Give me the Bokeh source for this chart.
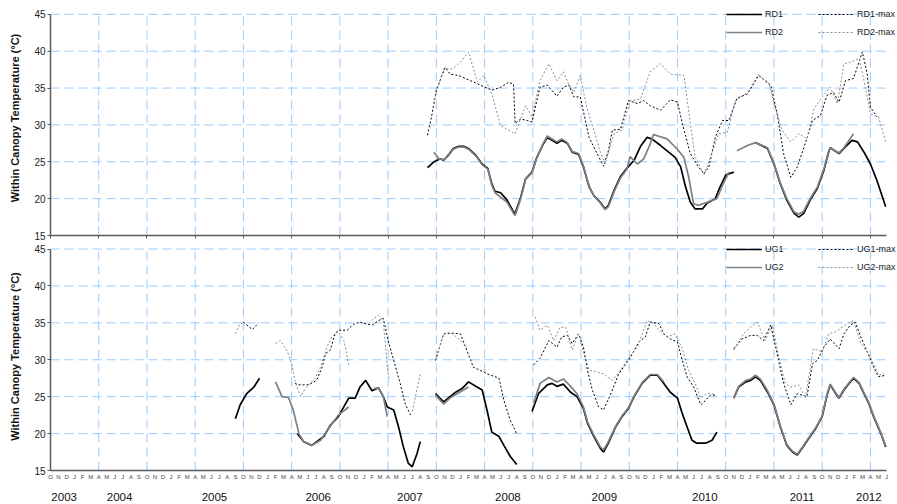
from bokeh.plotting import figure
from bokeh.models import FixedTicker, LinearAxis, Range1d, Legend, LegendItem
from bokeh.layouts import column
from bokeh.embed import file_html
from bokeh.resources import INLINE

nan = float("nan")

# x values are months since 1 October 2003 (0 = Oct 2003, 104 = Jun 2012)
month_letters = ["O", "N", "D", "J", "F", "M", "A", "M", "J", "J", "A", "S"]
n_months = 105
year_labels = ["2003", "2004", "2005", "2006", "2007", "2008", "2009", "2010", "2011", "2012"]
year_label_months = [1.7, 8.6, 20.4, 33.3, 44.7, 56.9, 68.9, 81.4, 93.5, 101.8]
grid_months = list(range(6, 105, 6))
temp_ticks = [15, 20, 25, 30, 35, 40, 45]
x_first, x_last = 0, 104
t_min, t_max = 15, 45

# ---- top panel (RD) ----
rd1_m = [46.9, 47.7, 48.5, 48.9, 49.5, 50.1, 50.8, 51.4, 52.0, 52.9, 53.7, 54.4, 54.9, 55.3, 56.0,
         56.8, 57.6, 57.8, 58.5, 59.1, 59.9, 60.5, 61.2, 61.8, 62.4, 63.0, 63.6, 64.3, 64.9, 65.7,
         66.3, 67.0, 67.6, 68.4, 69.0, 69.4, 70.1, 70.9, 71.7, 72.6, 73.4, 74.2, 74.8, 75.9, 76.9,
         77.7, 78.4, 79.0, 79.6, 80.2, 81.1, 81.7, 82.7, 83.3, 84.0, 85.0, nan,
         87.7, 89.2, 90.0, 90.8, 91.6, 92.5, 93.1, 93.7, 94.5, 95.4, 96.2, 96.8, 97.0, 98.1, 98.7,
         99.7, 100.4, 101.2, 102.0, 102.8, 103.9]
rd1_t = [24.2, 25.0, 25.4, 25.2, 25.9, 26.8, 27.1, 27.1, 26.8, 25.9, 24.7, 24.1, 22.0, 21.0, 20.8,
         19.8, 18.2, 18.0, 20.2, 22.7, 23.6, 25.6, 27.2, 28.3, 27.9, 27.5, 27.9, 27.5, 26.3, 26.0,
         24.3, 21.6, 20.4, 19.5, 18.6, 19.1, 21.1, 23.0, 24.1, 25.2, 27.1, 28.3, 28.1, 27.2, 26.3,
         25.6, 24.3, 21.6, 19.5, 18.6, 18.6, 19.4, 20.0, 21.6, 23.2, 23.6, nan,
         27.6, 26.8, 24.7, 22.0, 19.8, 18.0, 17.5, 18.0, 19.8, 21.4, 23.8, 26.3, 26.9, 26.1, 26.8,
         27.9, 27.7, 26.3, 24.7, 22.5, 18.9]

rd2_m = [47.7, 48.3, 48.9, 49.5, 50.1, 50.8, 51.4, 52.0, 52.9, 53.7, 54.4, 54.9, 55.3, 56.0, 56.8,
         57.6, 57.8, 58.5, 59.1, 59.9, 60.5, 61.2, 61.8, 62.4, 63.0, 63.6, 64.3, 64.9, 65.7, 66.3,
         67.0, 67.6, 68.4, 69.0, 69.4, 70.1, 70.9, 71.7, 72.1, 73.0, 73.8, 74.6, 75.0, 76.7, 77.9,
         78.8, 79.4, 80.0, 80.6, 81.7, 82.9, 83.6, 84.4, nan,
         85.4, 86.7, 87.7, 89.2, 90.0, 90.8, 91.6, 92.5, 93.1, 93.7, 94.5, 95.4, 96.2, 96.8, 97.0,
         98.1, 98.7, 99.9]
rd2_t = [26.3, 25.4, 25.3, 25.8, 26.7, 27.0, 27.0, 26.7, 25.8, 24.6, 24.0, 21.8, 20.8, 20.2, 19.5,
         18.0, 17.7, 20.0, 22.6, 23.5, 25.5, 27.3, 28.5, 28.1, 27.7, 28.1, 27.6, 26.4, 26.1, 24.4,
         21.7, 20.4, 19.4, 18.5, 18.9, 20.9, 22.8, 24.0, 25.7, 24.7, 25.4, 27.4, 28.7, 28.1, 26.8,
         25.6, 22.9, 19.3, 19.1, 19.5, 20.0, 21.8, 23.6, nan,
         26.5, 27.2, 27.6, 26.9, 24.8, 22.1, 20.0, 18.2, 17.9, 18.3, 20.0, 21.6, 24.0, 26.4, 26.9,
         26.2, 26.9, 28.8]

rd1max_m = [46.9, 47.4, 48.0, 48.7, 49.1, 49.7, 50.8, 54.9, 56.0, 57.0, 57.6, 57.8, 58.5, 59.3, 59.9,
            60.5, 60.9, 61.8, 63.0, 63.8, 64.5, 65.1, 65.9, 67.0, 68.0, 68.8, 69.4, 69.9, 70.9, 71.9,
            73.0, 73.8, 74.6, 75.9, 77.1, 78.0, 78.6, 79.6, 80.6, 81.3, 81.9, 82.7, 83.6, 84.4, 85.4,
            86.7, 88.1, 89.6, 90.4, 91.2, 92.1, 92.9, 93.9, 94.8, 95.8, 96.6, 97.4, 98.1, 98.9, 99.9,
            101.0, 101.6, 102.0, 102.8]
rd1max_t = [28.6, 31.1, 34.7, 36.7, 37.8, 36.9, 36.7, 34.7, 35.1, 35.8, 35.5, 30.2, 30.8, 30.6, 30.4,
            33.3, 35.1, 35.4, 33.9, 35.1, 35.4, 33.8, 33.8, 28.3, 26.1, 24.4, 26.5, 29.3, 29.4, 33.3,
            32.9, 33.3, 32.6, 32.0, 33.4, 33.1, 30.2, 26.1, 24.3, 23.4, 24.3, 28.3, 30.6, 30.6, 33.6,
            34.2, 36.7, 35.4, 31.5, 26.1, 22.9, 24.3, 27.5, 30.6, 31.3, 34.0, 34.4, 33.1, 36.0, 36.3,
            39.9, 36.9, 32.4, 31.1]

rd2max_m = [47.7, 48.9, 50.0, 51.0, 52.0, 53.1, 53.9, 54.9, 56.0, 57.8, 59.1, 59.9, 60.9, 62.0, 63.0,
            63.8, 64.5, 65.1, 65.9, 66.7, 67.6, 68.4, 69.0, 70.1, 71.1, 72.1, 73.4, 74.6, 75.9, 77.1,
            78.8, 79.6, 80.2, 81.3, 82.1, 83.1, 84.2, 85.2, 86.7, 88.1, 89.4, 90.0, 91.0, 92.1, 93.1,
            94.1, 95.0, 96.0, 97.0, 97.9, 98.7, 99.5, 100.6, 101.2, 102.0, 103.0, 103.9]
rd2max_t = [33.3, 37.6, 37.6, 38.5, 39.9, 35.8, 36.7, 34.2, 29.9, 28.8, 32.6, 31.1, 36.0, 38.3, 36.0,
            37.2, 35.4, 34.4, 36.7, 32.4, 29.3, 26.3, 24.7, 28.8, 29.3, 33.3, 33.5, 37.2, 38.3, 36.9,
            36.7, 30.2, 25.6, 23.2, 25.6, 28.8, 29.0, 33.3, 34.4, 36.9, 35.4, 32.9, 29.3, 27.7, 28.8,
            28.1, 32.2, 33.8, 35.1, 32.9, 38.3, 38.5, 39.0, 36.0, 31.5, 31.1, 27.7]

# ---- bottom panel (UG) ----
ug1_m = [23.0, 23.6, 24.4, 25.3, 26.0, nan,
         30.7, 31.5, 32.5, 34.0, 34.8, 35.8, 37.1, 37.9, 38.5, 39.2, 40.0, 40.8, 41.4, 41.9, 42.7,
         43.3, 43.9, 44.5, 45.0, 45.6, 46.0, nan,
         47.9, 48.9, 49.7, 50.4, 51.2, 52.0, 52.9, 53.7, 54.3, 54.9, 55.8, 56.4, 57.2, 58.0, nan,
         59.9, 60.7, 61.8, 62.4, 63.0, 63.8, 64.7, 65.5, 66.3, 66.8, 67.6, 68.4, 68.8, 69.4, 70.3,
         71.1, 71.9, 72.6, 73.6, 74.6, 75.5, 76.3, 77.1, 78.0, 78.6, 79.2, 79.8, 80.4, 81.5, 82.3,
         82.9, nan,
         85.0, 85.6, 86.5, 87.1, 87.7, 88.3, 89.2, 90.0, 90.8, 91.6, 92.3, 92.9, 93.5, 94.3, 95.2,
         96.0, 96.6, 97.0, 97.7, 98.1, 98.7, 99.5, 99.9, 100.6, 101.2, 101.8, 102.4, 103.3, 103.9]
ug1_t = [22.0, 23.9, 25.4, 26.3, 27.5, nan,
         20.0, 18.9, 18.4, 19.6, 21.1, 22.3, 24.8, 24.8, 26.3, 27.2, 25.8, 26.2, 25.0, 23.6, 23.2,
         20.9, 18.2, 16.0, 15.5, 17.3, 18.9, nan,
         25.4, 24.3, 25.0, 25.6, 26.1, 27.0, 26.4, 25.9, 23.2, 20.2, 19.6, 18.4, 16.9, 15.8, nan,
         23.0, 25.4, 26.6, 26.8, 26.4, 26.7, 25.6, 25.0, 23.4, 21.4, 19.6, 18.0, 17.5, 18.7, 20.9,
         22.3, 23.4, 25.0, 26.8, 27.9, 27.9, 26.8, 25.6, 24.8, 22.7, 20.9, 19.1, 18.7, 18.7, 19.1,
         20.2, nan,
         24.8, 26.3, 27.0, 27.2, 27.7, 27.2, 25.6, 23.9, 20.9, 18.4, 17.5, 17.1, 18.0, 19.3, 20.7,
         22.3, 25.2, 26.6, 25.4, 24.8, 25.9, 27.0, 27.5, 26.8, 25.4, 24.1, 22.3, 20.0, 18.2]

ug2_m = [28.0, 28.8, 29.6, 30.2, 30.9, 31.5, 32.5, 33.6, 34.6, 35.8, 37.1, nan,
         40.2, 40.8, 41.4, 41.9, nan,
         47.9, 48.9, 49.7, 50.6, 52.0, nan,
         60.1, 60.9, 62.0, 63.0, 63.8, 64.7, 65.5, 66.3, 66.8, 67.6, 68.4, 68.8, 69.4, 70.3, 71.1,
         71.9, 72.6, 73.6, 74.6, 75.5, 76.3, nan,
         85.0, 85.6, 86.5, 87.1, 87.7, 88.3, 89.2, 90.0, 90.8, 91.6, 92.3, 92.9, 93.5, 94.3, 95.2,
         96.0, 96.6, 97.0, 97.7, 98.1, 98.7, 99.5, 99.9, 100.6, 101.2, 101.8, 102.4, 103.3, 103.9]
ug2_t = [27.0, 25.0, 24.9, 23.2, 20.0, 18.9, 18.4, 19.1, 20.7, 22.5, 23.6, nan,
         26.1, 26.2, 25.0, 22.3, nan,
         25.2, 24.0, 24.8, 25.4, 26.3, nan,
         24.1, 26.8, 27.6, 27.0, 27.4, 26.4, 25.4, 23.6, 21.6, 19.8, 18.2, 17.8, 18.9, 21.0, 22.4,
         23.5, 25.1, 26.9, 28.0, 28.0, 27.0, nan,
         24.8, 26.4, 27.2, 27.4, 27.9, 27.4, 25.8, 24.0, 21.0, 18.5, 17.6, 17.2, 18.1, 19.4, 20.8,
         22.4, 25.3, 26.7, 25.5, 24.9, 26.0, 27.1, 27.6, 26.9, 25.5, 24.2, 22.4, 20.1, 18.3]

ug1max_m = [24.0, 25.1, 25.9, nan,
            30.4, 30.9, 32.1, 33.1, 33.8, 34.2, 34.8, 35.4, 35.8, 36.9, 37.7, 38.5, 39.4, 40.0, 40.8,
            41.4, 42.1, 42.7, 43.5, 44.1, 44.8, nan,
            47.9, 48.9, 50.0, 51.0, 52.6, 54.3, 55.8, 56.4, 57.2, 58.0, nan,
            60.1, 60.9, 62.0, 63.0, 63.6, 64.3, 64.9, 65.7, 66.3, 66.8, 67.4, 68.2, 68.8, 69.7, 70.7,
            71.9, 73.2, 74.0, 74.6, 75.7, 76.3, 77.1, 78.0, 78.6, 79.2, 80.0, 80.9, 81.5, 82.1, 82.7, nan,
            85.0, 86.0, 87.1, 87.9, 88.7, 89.6, 90.4, 91.2, 92.1, 92.9, 93.5, 94.1, 94.8, 95.4, 96.2,
            97.0, 98.1, 98.7, 99.5, 100.1, 100.8, 101.6, 102.4, 103.0, 103.9]
ug1max_t = [35.1, 34.1, 35.0, nan,
            26.8, 26.6, 26.6, 27.2, 29.0, 30.8, 31.3, 33.5, 34.0, 34.0, 34.8, 35.1, 34.8, 34.7, 35.3,
            35.6, 32.2, 29.9, 26.8, 24.1, 22.5, nan,
            29.9, 33.5, 33.6, 33.5, 29.0, 28.1, 27.5, 24.5, 21.8, 20.0, nan,
            29.3, 30.2, 32.6, 31.7, 33.1, 33.3, 32.2, 33.5, 31.7, 28.6, 25.9, 23.6, 23.2, 25.4, 28.1,
            29.9, 32.4, 33.1, 35.1, 34.9, 33.5, 32.8, 32.4, 29.9, 27.7, 26.3, 23.9, 24.5, 25.2, 25.2, nan,
            31.5, 32.8, 33.3, 33.3, 32.6, 34.7, 30.8, 26.8, 23.9, 25.4, 25.2, 25.0, 29.5, 29.9, 31.7,
            32.8, 31.5, 33.5, 34.7, 35.1, 33.1, 31.1, 29.0, 27.7, 27.9]

ug2max_m = [23.0, 23.6, 24.0, nan,
            28.0, 28.6, 29.4, 30.0, 30.4, 31.1, 31.7, 32.9, 33.6, 34.4, 35.0, 35.8, 36.5, 37.1, nan,
            39.6, 40.2, 40.8, 41.4, 41.9, 42.1, nan,
            45.0, 45.4, 46.0, nan,
            47.9, 48.9, 49.3, 50.0, 50.6, 51.8, nan,
            60.3, 60.9, 61.8, 62.6, 63.4, 64.1, 64.9, 65.7, 66.3, 67.0, 67.8, 68.8, 69.9, 70.9, 71.9,
            73.0, 73.8, 74.2, 75.0, 75.9, 76.7, 77.7, 78.6, 79.4, 80.2, 80.9, 81.7, 82.7, nan,
            85.0, 86.2, 87.1, 87.9, 88.9, 89.8, 90.6, 91.4, 92.1, 93.1, 93.9, 94.9, 96.0, 96.8, 97.7,
            99.1, 99.9, 100.8, 102.0, 103.0, 103.7]
ug2max_t = [33.5, 34.9, 35.0, nan,
            32.2, 32.6, 31.3, 29.5, 27.2, 25.0, 26.1, 27.5, 29.0, 31.7, 33.1, 33.8, 32.6, 29.3, nan,
            34.9, 35.6, 36.0, 35.3, 29.0, 27.5, nan,
            23.0, 25.0, 28.1, nan,
            29.9, 33.5, 33.7, 33.5, 33.0, 31.7, nan,
            35.8, 34.0, 34.7, 32.6, 34.4, 34.4, 31.3, 33.5, 31.0, 28.6, 28.4, 28.1, 27.2, 28.6, 30.2,
            31.7, 34.0, 35.3, 34.9, 33.8, 33.1, 33.5, 31.5, 28.5, 26.8, 24.8, 25.5, 25.3, nan,
            31.3, 33.5, 34.4, 35.1, 32.6, 34.7, 30.4, 26.8, 26.3, 26.6, 24.8, 31.5, 31.1, 33.5, 33.8,
            34.9, 35.3, 32.2, 30.4, 27.9, 28.1]

FONT = "Liberation Sans"
GRID_COLOR = "#99ccff"
AXIS_COLOR = "#5a5a5a"
GRAY = "#808080"
LIGHT_GRAY = "#8c8c8c"

FRAME_LEFT = 50          # px from the canvas left to the y axis
PLOT_RIGHT_PAD = 11      # px between Jun 2012 and the canvas right edge
WIDTH = 897


def make_panel(height, pad_above_45, border_bottom, month_labels):
    frame_h = height - border_bottom
    px_per_deg = (frame_h - pad_above_45) / (t_max - t_min)
    y_top = t_max + pad_above_45 / px_per_deg
    frame_w = WIDTH - FRAME_LEFT
    px_per_month = (frame_w - PLOT_RIGHT_PAD) / (x_last - x_first)
    x_right = x_last + PLOT_RIGHT_PAD / px_per_month

    p = figure(width=WIDTH, height=height, x_range=Range1d(x_first, x_right),
               y_range=Range1d(t_min, y_top),
               output_backend="svg", toolbar_location=None,
               min_border_left=FRAME_LEFT, min_border_right=0,
               min_border_top=0, min_border_bottom=border_bottom)
    p.outline_line_color = None
    p.background_fill_color = "white"
    p.border_fill_color = "white"
    p.xgrid.visible = False
    p.ygrid.visible = False

    # dashed light-blue grid, limited to the 15-45 / Oct03-Jun12 box
    p.segment(x0=grid_months, y0=[t_min] * len(grid_months),
              x1=grid_months, y1=[t_max] * len(grid_months),
              line_color=GRID_COLOR, line_width=1, line_dash="9 5")
    h_ticks = temp_ticks[1:]
    p.segment(x0=[x_first] * len(h_ticks), y0=h_ticks,
              x1=[x_last] * len(h_ticks), y1=h_ticks,
              line_color=GRID_COLOR, line_width=1, line_dash="9 5")

    # y axis
    ya = p.yaxis[0]
    ya.bounds = (t_min, t_max)
    ya.ticker = FixedTicker(ticks=temp_ticks)
    ya.axis_label = "Within Canopy Temperature (\u00b0C)"
    ya.axis_label_text_font = FONT
    ya.axis_label_text_font_style = "bold"
    ya.axis_label_text_font_size = "11px"
    ya.axis_label_text_color = "#111111"
    ya.axis_label_standoff = 10
    ya.major_label_text_font = FONT
    ya.major_label_text_font_size = "10px"
    ya.major_label_text_color = "#222222"
    ya.major_label_standoff = 2
    ya.axis_line_color = AXIS_COLOR
    ya.axis_line_width = 1.5
    ya.major_tick_line_color = AXIS_COLOR
    ya.major_tick_out = 3
    ya.major_tick_in = 0
    ya.minor_tick_line_color = None

    # x axis
    xa = p.xaxis[0]
    xa.bounds = (x_first, x_last)
    xa.axis_line_color = AXIS_COLOR
    xa.axis_line_width = 1.5
    xa.minor_tick_line_color = None
    if month_labels:
        xa.ticker = FixedTicker(ticks=list(range(n_months)))
        xa.major_label_overrides = {i: month_letters[i % 12] for i in range(n_months)}
        xa.major_label_text_font = FONT
        xa.major_label_text_font_size = "6px"
        xa.major_label_text_color = "#444444"
        xa.major_label_standoff = 3
        xa.major_tick_line_color = None
        xa.major_tick_out = 0
        xa.major_tick_in = 0
        years = LinearAxis(ticker=FixedTicker(ticks=year_label_months),
                           major_label_overrides=dict(zip(year_label_months, year_labels)),
                           axis_line_color=None, major_tick_line_color=None,
                           minor_tick_line_color=None, major_tick_out=0, major_tick_in=0,
                           major_label_standoff=10, major_label_text_font=FONT,
                           major_label_text_font_size="11.5px", major_label_text_color="#111111")
        p.add_layout(years, "below")
    else:
        xa.ticker = FixedTicker(ticks=[0] + grid_months)
        xa.major_label_overrides = {m: "" for m in [0] + grid_months}
        xa.major_label_standoff = 0
        xa.major_tick_line_color = AXIS_COLOR
        xa.major_tick_out = 3
        xa.major_tick_in = 0
    return p


def add_series(p, names, data, legend_top):
    renderers = []
    for (xs, ys, color, width, dash) in data:
        r = p.line(xs, ys, line_color=color, line_width=width, line_dash=dash)
        renderers.append(r)
    # row-major: solid1, max1 / solid2, max2
    items = [LegendItem(label=names[0], renderers=[renderers[0]]),
             LegendItem(label=names[2], renderers=[renderers[2]]),
             LegendItem(label=names[1], renderers=[renderers[1]]),
             LegendItem(label=names[3], renderers=[renderers[3]])]
    frame_bottom = p.height - p.min_border_bottom
    leg_h = 12 + 6 + 12
    leg = Legend(items=items, location=(676, frame_bottom - legend_top - leg_h),
                 orientation="horizontal", ncols=2,
                 glyph_width=36, glyph_height=12, label_height=12, label_width=47,
                 label_standoff=3, spacing=6, padding=0, margin=0,
                 label_text_font=FONT, label_text_font_size="9px", label_text_color="#222222",
                 background_fill_alpha=0, border_line_alpha=0)
    p.add_layout(leg)


top = make_panel(242, 13.8, 7, False)
add_series(top, ["RD1", "RD2", "RD1-max", "RD2-max"], [
    (rd1_m, rd1_t, "black", 1.7, "solid"),
    (rd2_m, rd2_t, GRAY, 1.7, "solid"),
    (rd1max_m, rd1max_t, "black", 1, "2 2"),
    (rd2max_m, rd2max_t, LIGHT_GRAY, 1, "2 2"),
], 7.5)

bottom = make_panel(262, 6.5, 34, True)
add_series(bottom, ["UG1", "UG2", "UG1-max", "UG2-max"], [
    (ug1_m, ug1_t, "black", 1.7, "solid"),
    (ug2_m, ug2_t, GRAY, 1.7, "solid"),
    (ug1max_m, ug1max_t, "black", 1, "2 2"),
    (ug2max_m, ug2max_t, LIGHT_GRAY, 1, "2 2"),
], 0.7)

layout = column(top, bottom, spacing=0)
open("out.html", "w").write(file_html(layout, INLINE))
